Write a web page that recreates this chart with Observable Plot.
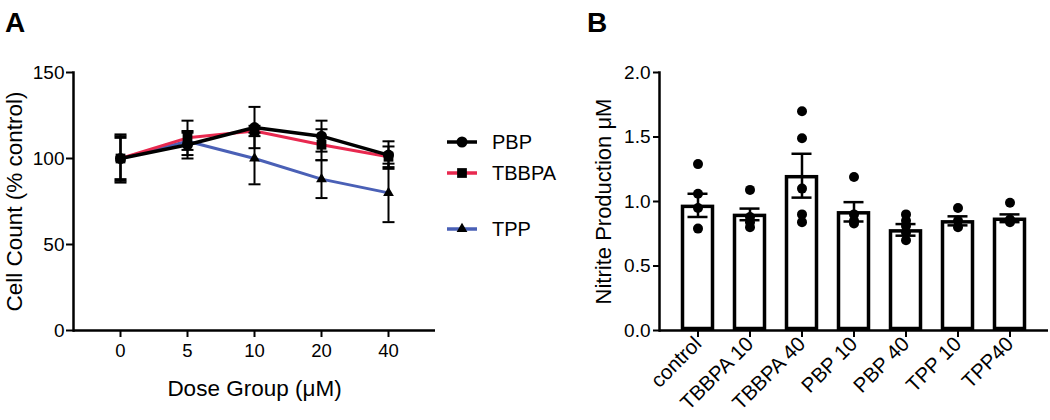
<!DOCTYPE html>
<html>
<head>
<meta charset="utf-8">
<script src="https://cdn.jsdelivr.net/npm/d3@7"></script>
<script src="https://cdn.jsdelivr.net/npm/@observablehq/plot@0.6"></script>
<style>
  html, body { margin: 0; padding: 0; background: #fff; }
  #wrap { position: relative; width: 1050px; height: 420px; font-family: "Liberation Sans", Arial, Helvetica, sans-serif; }
  .panel { position: absolute; top: 0; }
  .tag { position: absolute; font-weight: bold; font-size: 28px; line-height: 28px; color: #000; }
  #legend { position: absolute; left: 440px; top: 120px; }
</style>
</head>
<body>
<div id="wrap">
  <div id="panelA" class="panel" style="left:0px"></div>
  <div id="panelB" class="panel" style="left:560px"></div>
  <div class="tag" style="left:5px; top:9px">A</div>
  <div class="tag" style="left:587px; top:9px">B</div>
  <svg id="legend" width="130" height="130"></svg>
</div>
<script>
// ---------- Panel A data ----------
const doses = ["0", "5", "10", "20", "40"];
const seriesNames = ["PBP", "TBBPA", "TPP"];
const seriesColors = ["#000000", "#e8294f", "#4a60b6"];
const seriesSymbols = ["circle", "square", "triangle"];
const pbpMean = [100, 108, 118, 113, 102];
const pbpErr = [12, 8, 12, 9, 8];
const tbbpaMean = [100, 112, 116, 108, 101];
const tbbpaErr = [13, 10, 3, 9, 6];
const tppMean = [100, 110, 100, 88, 80];
const tppErr = [14, 5, 15, 11, 17];
const yTicksA = [0, 50, 100, 150];

// ---------- Panel B data ----------
const groups = ["control", "TBBPA 10", "TBBPA 40", "PBP 10", "PBP 40", "TPP 10", "TPP40"];
const groupMeans = [0.97, 0.90, 1.20, 0.92, 0.78, 0.85, 0.87];
const groupSems = [0.09, 0.045, 0.17, 0.075, 0.045, 0.035, 0.03];
const ptsControl = [1.29, 1.06, 0.95, 0.79];
const ptsTBBPA10 = [1.09, 0.88, 0.84, 0.80];
const ptsTBBPA40 = [1.70, 1.49, 1.10, 0.90, 0.84];
const ptsPBP10 = [1.19, 0.90, 0.85, 0.83];
const ptsPBP40 = [0.90, 0.85, 0.81, 0.76, 0.70];
const ptsTPP10 = [0.95, 0.85, 0.80];
const ptsTPP40 = [0.99, 0.86, 0.84];
const yTicksB = [0, 0.5, 1.0, 1.5, 2.0];

const FONT = '"Liberation Sans", Arial, Helvetica, sans-serif';

// build tables
const means = [pbpMean, tbbpaMean, tppMean];
const errs = [pbpErr, tbbpaErr, tppErr];
const rowsA = [];
seriesNames.forEach((s, i) => {
  doses.forEach((d, j) => {
    rowsA.push({series: s, dose: d, mean: means[i][j], lo: means[i][j] - errs[i][j], hi: means[i][j] + errs[i][j]});
  });
});
const capSymbol = {
  draw(context, size) {
    const r = Math.sqrt(size / Math.PI);
    context.moveTo(-r, 0);
    context.lineTo(r, 0);
  }
};
const colorOf = Object.fromEntries(seriesNames.map((s, i) => [s, seriesColors[i]]));
const symOf = Object.fromEntries(seriesNames.map((s, i) => [s, seriesSymbols[i]]));
const drawOrder = ["TPP", "TBBPA", "PBP"];

const marksA = [
  Plot.axisY({ticks: yTicksA, tickSize: 7, tickPadding: 2, strokeWidth: 2, fontSize: 19, label: null}),
  Plot.axisX({tickSize: 7, tickPadding: 6, strokeWidth: 2, fontSize: 18.5, label: null}),
  Plot.frame({anchor: "left", strokeWidth: 2.5}),
  Plot.ruleY([0], {strokeWidth: 2.5}),
];
for (const s of drawOrder) {
  marksA.push(Plot.line(rowsA.filter(d => d.series === s), {x: "dose", y: "mean", stroke: colorOf[s], strokeWidth: s === "PBP" ? 3.5 : 3}));
}
for (const s of drawOrder) {
  const rs = rowsA.filter(d => d.series === s);
  marksA.push(Plot.ruleX(rs, {x: "dose", y1: "lo", y2: "hi", stroke: "black", strokeWidth: 2}));
  marksA.push(Plot.dot(rs, {x: "dose", y: "lo", symbol: capSymbol, r: 6, stroke: "black", strokeWidth: 2, fill: "none"}));
  marksA.push(Plot.dot(rs, {x: "dose", y: "hi", symbol: capSymbol, r: 6, stroke: "black", strokeWidth: 2, fill: "none"}));
}
for (const s of drawOrder) {
  const rs = rowsA.filter(d => d.series === s);
  marksA.push(Plot.dot(rs, {x: "dose", y: "mean", symbol: symOf[s], r: s === "TPP" ? 4 : 5.5, fill: "black", stroke: "none"}));
}
marksA.push(Plot.text(["Cell Count (% control)"], {frameAnchor: "left", dx: -59, rotate: -90, textAnchor: "middle", lineAnchor: "middle", fontSize: 22.5, fill: "black"}));
marksA.push(Plot.text(["Dose Group (\u03bcM)"], {frameAnchor: "bottom", dy: 58, textAnchor: "middle", lineAnchor: "middle", fontSize: 22.5, fill: "black"}));

const chartA = Plot.plot({
  width: 560, height: 420,
  marginLeft: 73, marginRight: 125, marginTop: 72, marginBottom: 90,
  style: {fontFamily: FONT, fontSize: "18px", color: "#000", background: "transparent", overflow: "visible"},
  x: {type: "point", domain: doses, padding: 0.67, label: null},
  y: {domain: [0, 150], label: null},
  marks: marksA
});
document.getElementById("panelA").appendChild(chartA);

// legend
const legendY = [22, 53, 109];
const lg = d3.select("#legend");
seriesNames.forEach((s, i) => {
  const g = lg.append("g").attr("transform", `translate(0,${legendY[i]})`);
  g.append("line").attr("x1", 7).attr("x2", 37).attr("y1", 0).attr("y2", 0)
    .attr("stroke", seriesColors[i]).attr("stroke-width", 3.5);
  const sym = {circle: d3.symbolCircle, square: d3.symbolSquare, triangle: d3.symbolTriangle}[seriesSymbols[i]];
  const rr = seriesSymbols[i] === "triangle" ? 4 : 5.5;
  g.append("path").attr("transform", "translate(22,0)").attr("d", d3.symbol(sym, Math.PI * rr * rr)()).attr("fill", "black");
  g.append("text").attr("x", 52).attr("y", 0).attr("dy", "0.35em")
    .attr("font-family", FONT).attr("font-size", 20).attr("fill", "black").text(s);
});

// ---------- Panel B ----------
const rowsB = groups.map((g, i) => ({group: g, mean: groupMeans[i], lo: groupMeans[i] - groupSems[i], hi: groupMeans[i] + groupSems[i]}));
const ptsAll = [ptsControl, ptsTBBPA10, ptsTBBPA40, ptsPBP10, ptsPBP40, ptsTPP10, ptsTPP40];
const ptsRows = [];
groups.forEach((g, i) => ptsAll[i].forEach(v => ptsRows.push({group: g, value: v})));

const chartB = Plot.plot({
  width: 490, height: 420,
  marginLeft: 99, marginRight: 2, marginTop: 72, marginBottom: 90,
  style: {fontFamily: FONT, fontSize: "19px", color: "#000", background: "transparent", overflow: "visible"},
  x: {type: "band", domain: groups, paddingInner: 0.37, paddingOuter: 0.37, label: null},
  y: {domain: [0, 2], label: null},
  marks: [
    Plot.axisY({ticks: yTicksB, tickFormat: d3.format(".1f"), tickSize: 6, tickPadding: 3, strokeWidth: 2, fontSize: 19, label: null}),
    Plot.axisX({tickRotate: -45, tickSize: 7, tickPadding: 3, strokeWidth: 2, fontSize: 20.5, label: null}),
    Plot.barY(rowsB, {x: "group", y: "mean", fill: "white", stroke: "black", strokeWidth: 3.5, inset: 1.5}),
    Plot.ruleX(rowsB, {x: "group", y1: "lo", y2: "hi", stroke: "black", strokeWidth: 2.5}),
    Plot.tickY(rowsB, {x: "group", y: "hi", stroke: "black", strokeWidth: 2.5, insetLeft: 6.5, insetRight: 6.5}),
    Plot.tickY(rowsB, {x: "group", y: "lo", stroke: "black", strokeWidth: 2.5, insetLeft: 6.5, insetRight: 6.5}),
    Plot.dot(ptsRows, {x: "group", y: "value", r: 5, fill: "black", stroke: "none"}),
    Plot.frame({anchor: "left", strokeWidth: 2.5}),
    Plot.ruleY([0], {strokeWidth: 2.5}),
    Plot.text(["Nitrite Production \u03bcM"], {frameAnchor: "left", dx: -56, rotate: -90, textAnchor: "middle", lineAnchor: "middle", fontSize: 22, fill: "black"})
  ]
});
document.getElementById("panelB").appendChild(chartB);
</script>
</body>
</html>
